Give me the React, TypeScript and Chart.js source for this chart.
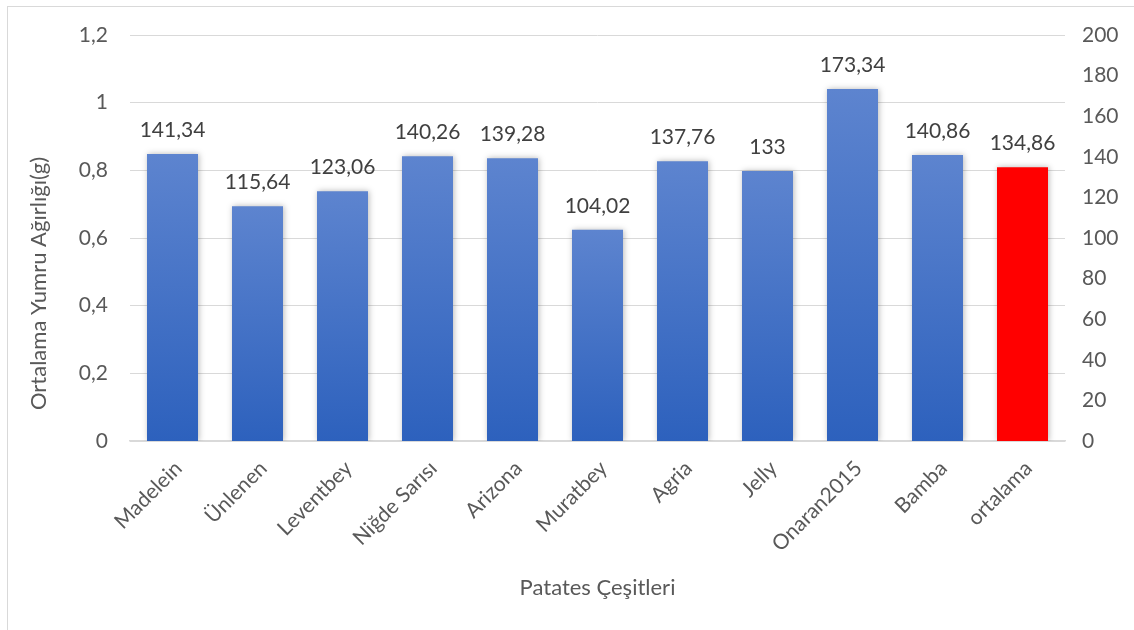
import React, { useEffect, useRef } from "react";
import { Chart, registerables } from "chart.js";

Chart.register(...registerables);

const categories = [
  "Madelein",
  "Ünlenen",
  "Leventbey",
  "Niğde Sarısı",
  "Arizona",
  "Muratbey",
  "Agria",
  "Jelly",
  "Onaran2015",
  "Bamba",
  "ortalama",
];

const tuberWeights = [141.34, 115.64, 123.06, 140.26, 139.28, 104.02, 137.76, 133, 173.34, 140.86, 134.86];

const leftAxisMax = 1.2;
const leftAxisStep = 0.2;
const rightAxisMax = 200;
const rightAxisStep = 20;

const xTitle = "Patates Çeşitleri";
const yTitle = "Ortalama Yumru Ağırlığı(g)";

const FONT = "Lato, 'Open Sans', sans-serif";
const TEXT = "#595959";
const SIZE = 21;
const TITLE_SIZE = 22;

const commaNum = (v: number) => String(Math.round(v * 100) / 100).replace(".", ",");

// soft drop shadow behind the bars
const shadowPlugin = {
  id: "barShadow",
  beforeDatasetsDraw(chart: any) {
    const ctx = chart.ctx;
    ctx.save();
    ctx.shadowColor = "rgba(0,0,0,0.28)";
    ctx.shadowBlur = 6;
    ctx.shadowOffsetX = 1;
    ctx.shadowOffsetY = 0;
  },
  afterDatasetsDraw(chart: any) {
    chart.ctx.restore();
  },
};

// value labels above each bar
const valueLabelPlugin = {
  id: "valueLabels",
  afterDatasetsDraw(chart: any) {
    const ctx = chart.ctx;
    const meta = chart.getDatasetMeta(0);
    ctx.save();
    ctx.font = `${SIZE}px ${FONT}`;
    ctx.fillStyle = "#404040";
    ctx.textAlign = "center";
    ctx.textBaseline = "middle";
    meta.data.forEach((bar: any, i: number) => {
      ctx.fillText(commaNum(tuberWeights[i]), bar.x, bar.y - 24);
    });
    ctx.restore();
  },
};

// vertical title of the left axis, set a little below the axis middle
const leftTitlePlugin = {
  id: "leftTitle",
  afterDraw(chart: any) {
    const ctx = chart.ctx;
    const area = chart.chartArea;
    ctx.save();
    ctx.translate(39, area.top + (area.bottom - area.top) * 0.612);
    ctx.rotate(-Math.PI / 2);
    ctx.font = `${TITLE_SIZE}px ${FONT}`;
    ctx.fillStyle = TEXT;
    ctx.textAlign = "center";
    ctx.textBaseline = "middle";
    ctx.fillText(yTitle, 0, 0);
    ctx.restore();
  },
};

export default function App() {
  const canvasRef = useRef<HTMLCanvasElement | null>(null);

  useEffect(() => {
    const canvas = canvasRef.current;
    if (!canvas) return;
    const lastIndex = categories.length - 1;
    const chart = new Chart(canvas, {
      type: "bar",
      data: {
        labels: categories,
        datasets: [
          {
            data: tuberWeights,
            yAxisID: "y2",
            barPercentage: 0.6,
            categoryPercentage: 1,
            borderWidth: 0,
            backgroundColor: (c: any) => {
              if (c.dataIndex === lastIndex) return "#ff0000";
              const ch = c.chart;
              const scale = ch.scales && ch.scales.y2;
              if (!scale || c.dataIndex === undefined) return "#4472c4";
              const top = scale.getPixelForValue(tuberWeights[c.dataIndex]);
              const bottom = scale.getPixelForValue(0);
              if (!Number.isFinite(top) || !Number.isFinite(bottom) || top === bottom) return "#4472c4";
              const g = ch.ctx.createLinearGradient(0, top, 0, bottom);
              g.addColorStop(0, "#5d84cf");
              g.addColorStop(1, "#2d61bd");
              return g;
            },
          },
        ],
      },
      options: {
        animation: false,
        responsive: false,
        maintainAspectRatio: false,
        layout: { padding: { top: 35, left: 0, right: 0, bottom: 0 } },
        plugins: {
          legend: { display: false },
          tooltip: { enabled: false },
        },
        scales: {
          x: {
            grid: { display: false, drawTicks: false },
            border: { color: "#d9d9d9", width: 1.5 },
            ticks: {
              color: TEXT,
              font: { family: FONT, size: SIZE },
              minRotation: 45,
              maxRotation: 45,
              padding: 15,
              labelOffset: 6,
            },
            title: {
              display: true,
              text: xTitle,
              color: TEXT,
              font: { family: FONT, size: TITLE_SIZE },
              padding: { top: 0, bottom: 29 },
            },
            afterFit: (s: any) => {
              s.height = 189;
            },
          },
          y: {
            position: "left",
            min: 0,
            max: leftAxisMax,
            grid: { color: "#d9d9d9", lineWidth: 1, drawTicks: false },
            border: { display: false },
            ticks: {
              stepSize: leftAxisStep,
              color: TEXT,
              font: { family: FONT, size: SIZE },
              padding: 22,
              callback: (v: any) => commaNum(Number(v)),
            },
            afterFit: (s: any) => {
              s.width = 130;
            },
          },
          y2: {
            position: "right",
            min: 0,
            max: rightAxisMax,
            grid: { display: false, drawTicks: false },
            border: { display: false },
            ticks: {
              stepSize: rightAxisStep,
              color: TEXT,
              font: { family: FONT, size: SIZE },
              padding: 17,
            },
            afterFit: (s: any) => {
              s.width = 69;
            },
          },
        },
      },
      plugins: [shadowPlugin, valueLabelPlugin, leftTitlePlugin],
    });
    return () => chart.destroy();
  }, []);

  return (
    <div
      style={{
        position: "absolute",
        left: 0,
        top: 0,
        width: 1134,
        height: 630,
        overflow: "hidden",
        background: "#fff",
      }}
    >
      <div
        style={{
          position: "absolute",
          left: 7,
          top: 6,
          width: 2000,
          height: 2000,
          border: "1.5px solid #d9d9d9",
        }}
      />
      <canvas
        ref={canvasRef}
        width={1134}
        height={630}
        style={{ position: "absolute", left: 0, top: 0, width: 1134, height: 630 }}
      />
    </div>
  );
}
